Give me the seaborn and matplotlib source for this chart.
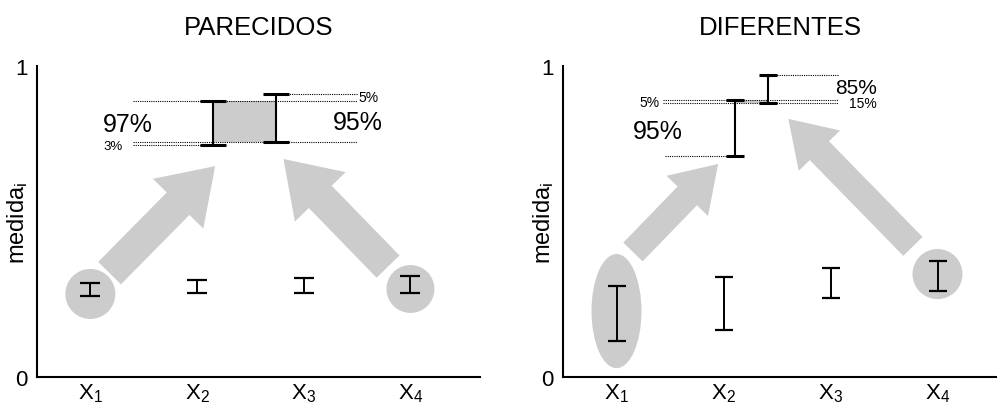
import numpy as np
import pandas as pd
import matplotlib
matplotlib.use("Agg")
import matplotlib.pyplot as plt
from matplotlib.patches import Ellipse, Rectangle, FancyArrowPatch, ArrowStyle
import seaborn as sns

# ---- data -------------------------------------------------------------
positions = [1, 2, 3, 4]
tick_labels = [r"$\mathregular{X_1}$", r"$\mathregular{X_2}$",
               r"$\mathregular{X_3}$", r"$\mathregular{X_4}$"]
panel_titles = ["PARECIDOS", "DIFERENTES"]

# similar measures: interval (low, high) per variable
sim_low = [0.261, 0.270, 0.270, 0.270]
sim_high = [0.302, 0.313, 0.317, 0.326]
# enlarged pair (X1 vs X4)
sim_pair_x = [2.15, 2.74]
sim_pair_low = [0.747, 0.755]
sim_pair_high = [0.886, 0.910]

# different measures
dif_low = [0.115, 0.151, 0.253, 0.277]
dif_high = [0.294, 0.321, 0.350, 0.374]
dif_pair_x = [2.11, 2.42]
dif_pair_low = [0.712, 0.880]
dif_pair_high = [0.892, 0.972]

GRAY = "#cccccc"

sns.set_theme(style="white")
plt.rcParams["font.family"] = ["Liberation Sans", "DejaVu Sans"]
plt.rcParams["mathtext.fontset"] = "custom"
plt.rcParams["mathtext.rm"] = "Liberation Sans"
plt.rcParams["mathtext.it"] = "Liberation Sans"
for key in ("text.color", "axes.labelcolor", "xtick.color", "ytick.color",
            "axes.edgecolor"):
    plt.rcParams[key] = "black"


def draw_intervals(ax, xs, lows, highs, capsize, lw, capthick):
    """Draw min–max intervals with seaborn (percentile interval of 100%)."""
    df = pd.DataFrame({
        "x": np.repeat(xs, 2),
        "v": np.column_stack([lows, highs]).ravel(),
    })
    sns.lineplot(data=df, x="x", y="v", estimator="mean",
                 errorbar=("pi", 100), err_style="bars", linestyle="",
                 color="black", ax=ax, legend=False,
                 err_kws=dict(capsize=capsize, elinewidth=lw,
                              capthick=capthick, zorder=5))


def dotted(ax, y, x0, x1):
    ax.hlines(y, x0, x1, colors="black", linestyles=(0, (1, 1)),
              linewidth=0.8, zorder=4)


def arrow(ax, tail, tip, tw, hw, hl):
    style = ArrowStyle.Simple(head_length=hl, head_width=hw, tail_width=tw)
    ax.add_patch(FancyArrowPatch(tail, tip, arrowstyle=style,
                                 mutation_scale=1, color=GRAY, lw=0,
                                 shrinkA=0, shrinkB=0, zorder=1))


def style_axes(ax, title, xmax):
    ax.set_xlim(0.5, xmax)
    ax.set_ylim(0, 1)
    ax.set_xticks(positions, tick_labels)
    ax.set_yticks([0, 1], ["0", "1"])
    ax.tick_params(axis="y", length=0, pad=6.5, labelsize=16, colors="black")
    ax.tick_params(axis="x", length=0, pad=3, labelsize=16, colors="black")
    sns.despine(ax=ax)
    for s in ("left", "bottom"):
        ax.spines[s].set_linewidth(1.5)
        ax.spines[s].set_color("black")
    ax.set_xlabel("")
    ax.set_ylabel(r"medida$_\mathregular{i}$", fontsize=17, color="black")
    ax.yaxis.set_label_coords(-0.016, 0.5)
    ax.set_title(title, fontsize=18.5, pad=23, color="black")


fig = plt.figure(figsize=(9.97, 4.06), dpi=100)
axL = fig.add_axes([37 / 997, 28 / 406, 443 / 997, 311 / 406])
axR = fig.add_axes([563 / 997, 28 / 406, 434 / 997, 311 / 406])

# ---- PARECIDOS -------------------------------------------------------
axL.add_patch(Ellipse((positions[0], 0.267), 0.469, 0.161, color=GRAY, lw=0, zorder=1))
axL.add_patch(Ellipse((positions[3], 0.283), 0.450, 0.154, color=GRAY, lw=0, zorder=1))
arrow(axL, (1.18, 0.334), (2.17, 0.678), 23, 51, 38)
arrow(axL, (3.79, 0.355), (2.81, 0.701), 23, 51, 38)

lo_ov, hi_ov = max(sim_pair_low), min(sim_pair_high)
axL.add_patch(Rectangle((sim_pair_x[0], lo_ov), sim_pair_x[1] - sim_pair_x[0],
                        hi_ov - lo_ov, color=GRAY, lw=0, zorder=2))
dotted(axL, sim_pair_high[0], 1.40, 3.50)
dotted(axL, sim_pair_high[1], sim_pair_x[1], 3.50)
dotted(axL, sim_pair_low[1], 1.40, 3.50)
dotted(axL, sim_pair_low[0], 1.40, sim_pair_x[0])

draw_intervals(axL, positions, sim_low, sim_high, 7.2, 1.4, 1.6)
draw_intervals(axL, sim_pair_x, sim_pair_low, sim_pair_high, 9.7, 1.5, 2.2)

axL.text(1.12, 0.813, "97%", fontsize=18, ha="left", va="center")
axL.text(1.12, 0.743, "3%", fontsize=9.5, ha="left", va="center")
axL.text(3.74, 0.820, "95%", fontsize=18, ha="right", va="center")
axL.text(3.70, 0.900, "5%", fontsize=10, ha="right", va="center")

style_axes(axL, panel_titles[0], 0.5 + 443 / 106.7)

# ---- DIFERENTES ------------------------------------------------------
axR.add_patch(Ellipse((positions[0], 0.212), 0.467, 0.367, color=GRAY, lw=0, zorder=1))
axR.add_patch(Ellipse((positions[3], 0.331), 0.467, 0.161, color=GRAY, lw=0, zorder=1))
arrow(axR, (1.154, 0.402), (1.95, 0.685), 19.4, 41.6, 32)
arrow(axR, (3.77, 0.420), (2.606, 0.830), 19.4, 41.6, 32)

lo_ov, hi_ov = max(dif_pair_low), min(dif_pair_high)
axR.add_patch(Rectangle((dif_pair_x[0], lo_ov), dif_pair_x[1] - dif_pair_x[0],
                        hi_ov - lo_ov, color=GRAY, lw=0, zorder=2))
dotted(axR, dif_pair_high[1], dif_pair_x[1], 3.07)
dotted(axR, dif_pair_high[0], 1.435, 3.07)
dotted(axR, dif_pair_low[1], 1.435, 3.07)
dotted(axR, dif_pair_low[0], 1.453, dif_pair_x[0])

draw_intervals(axR, positions, dif_low, dif_high, 6.5, 1.4, 1.6)
draw_intervals(axR, dif_pair_x, dif_pair_low, dif_pair_high, 6.5, 1.5, 2.2)

axR.text(1.407, 0.884, "5%", fontsize=10, ha="right", va="center")
axR.text(1.154, 0.791, "95%", fontsize=18, ha="left", va="center")
axR.text(3.435, 0.932, "85%", fontsize=15, ha="right", va="center")
axR.text(3.435, 0.881, "15%", fontsize=10, ha="right", va="center")

style_axes(axR, panel_titles[1], 0.5 + 434 / 107)

fig.savefig("out.png", dpi=100)
